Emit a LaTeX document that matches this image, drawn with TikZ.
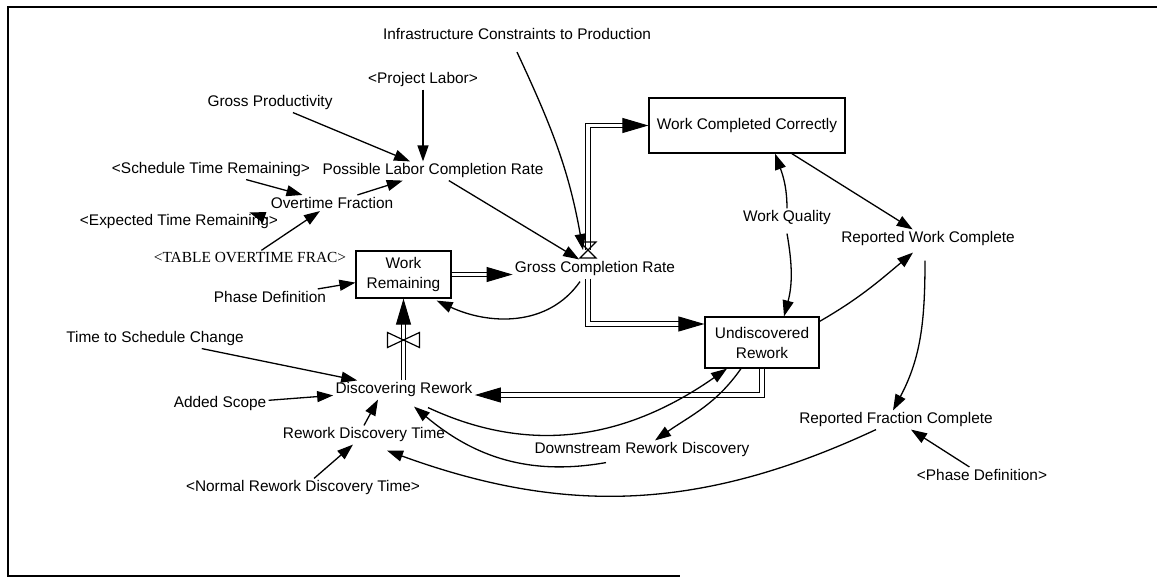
\documentclass[tikz,border=0pt]{standalone}
\usepackage{fontspec}
\setmainfont{Liberation Sans}
\newfontfamily\tablefont{Liberation Serif}
\usetikzlibrary{arrows.meta}

\begin{document}
\begin{tikzpicture}[x=0.5pt, y=-0.5pt,
    font=\fontsize{7.7}{9.2}\selectfont,
    aux/.style={inner sep=1pt},
    stock/.style={draw, line width=0.6pt, align=center, inner sep=1pt,
      font=\fontsize{7.7}{10}\selectfont},
    info/.style={line width=0.65pt, -{Triangle[length=8pt,width=5.5pt]}},
    flowpipe/.style={double, double distance=1.8pt, line width=0.5pt,
      -{Triangle[length=13pt,width=7.5pt]}},
    valve/.style={line width=0.6pt}]
  \useasboundingbox (0,0) rectangle (1157,578);
  \draw[line width=1pt] (1157,7) -- (8,7) -- (8,576) -- (680,576);

  \node[aux] (infra) at (517,34) {Infrastructure Constraints to Production};
  \node[aux] (projlabor) at (423,80) {<Project Labor>};
  \node[aux] (grossprod) at (270,103) {Gross Productivity};
  \node[aux] (schedtime) at (211,170) {<Schedule Time Remaining>};
  \node[aux] (possrate) at (433,171) {Possible Labor Completion Rate};
  \node[aux] (overtime) at (332,203) {Overtime Fraction};
  \node[aux] (expected) at (179,222) {<Expected Time Remaining>};
  \node[aux, font=\tablefont\fontsize{7.7}{9.2}\selectfont] (tableot) at (250,258)
    {<TABLE OVERTIME FRAC>};
  \node[stock, minimum width=47.5pt, minimum height=23.5pt] (workrem) at (403.5,274.5)
    {Work\\Remaining};
  \node[aux] (grossrate) at (595,269) {Gross Completion Rate};
  \node[aux] (phasedef) at (270,297) {Phase Definition};
  \node[aux] (timesched) at (155,339) {Time to Schedule Change};
  \node[aux] (discovering) at (404,390) {Discovering Rework};
  \node[aux] (addedscope) at (220,404) {Added Scope};
  \node[aux] (rdtime) at (364,435) {Rework Discovery Time};
  \node[aux] (normalrdt) at (303,488) {<Normal Rework Discovery Time>};
  \node[aux] (downstream) at (642,450) {Downstream Rework Discovery};
  \node[stock, minimum width=57pt, minimum height=25.5pt] (undisc) at (762,342.5)
    {Undiscovered\\Rework};
  \node[stock, minimum width=98pt, minimum height=27.5pt] (wcc) at (747,125.5)
    {Work Completed Correctly};
  \node[aux] (quality) at (787,218) {Work Quality};
  \node[aux] (repwork) at (928,239) {Reported Work Complete};
  \node[aux] (repfrac) at (896,420) {Reported Fraction Complete};
  \node[aux] (phasedef2) at (982,475) {<Phase Definition>};
  \coordinate (gcrvalve) at (588,250);
  \coordinate (drvalve) at (403.5,340);

  \draw[flowpipe] (workrem.east) -- (workrem.east -| grossrate.west);
  \draw[flowpipe] (gcrvalve) |- (wcc.west);
  \draw[flowpipe] (gcrvalve |- grossrate.south) |- ([yshift=9.25pt]undisc.west);
  \draw[flowpipe] (undisc.south) |- ([yshift=-2.5pt]discovering.east);
  \draw[flowpipe] (workrem.south |- discovering.north) -- (workrem.south);
  \draw[valve] (gcrvalve) -- ++(-8,-8) -- ++(16,0) -- cycle
    (gcrvalve) -- ++(-8,8) -- ++(16,0) -- cycle;
  \draw[valve] (drvalve) -- ++(-16,-7.5) -- ++(0,15) -- cycle
    (drvalve) -- ++(16,-7.5) -- ++(0,15) -- cycle;

  \draw[info] ([yshift=-5pt]infra.south) to[out=-65,in=100] ([xshift=-2.5pt]gcrvalve);
  \draw[info] (projlabor) -- (projlabor |- possrate.north);
  \draw[info] (grossprod) -- (possrate);
  \draw[info] (schedtime) -- (overtime);
  \draw[info] (overtime) -- (possrate);
  \draw[info] ([xshift=-6.5pt,yshift=-3pt]expected.north east)
    -- ([xshift=-15.5pt]expected.north east);
  \draw[info] (tableot) -- (overtime);
  \draw[info] (possrate) -- (grossrate);
  \draw[info] (phasedef) -- (workrem);
  \draw[info] ([xshift=-7.5pt,yshift=-1.5pt]grossrate.south)
    to[out=-125,in=-25] ([xshift=-7.5pt,yshift=-1pt]workrem.south east);
  \draw[info] (wcc) -- (repwork);
  \draw[info] (quality.north) to[out=90,in=-70] ([xshift=14pt]wcc.south);
  \draw[info] ([yshift=-3pt]quality.south) to[out=-80,in=75] ([xshift=11pt]undisc.north);
  \draw[info] ([yshift=-2.5pt]undisc.north east)
    to[out=30,in=-140] ([xshift=-7.5pt,yshift=-2pt]repwork.south);
  \draw[info] ([xshift=-1.5pt,yshift=-6pt]repwork.south)
    to[out=-90,in=62] ([xshift=-1.5pt]repfrac.north);
  \draw[info] (phasedef2) -- (repfrac);
  \draw[info] ([xshift=-10pt]repfrac.south)
    to[out=-155,in=-20] ([xshift=11.5pt,yshift=-3pt]rdtime.south);
  \draw[info] ([xshift=-18pt,yshift=-1.5pt]downstream.south)
    to[out=-170,in=-40] ([xshift=5pt,yshift=-3.5pt]discovering.south);
  \draw[info] ([xshift=12pt,yshift=-4pt]discovering.south)
    to[out=-25,in=-145] ([xshift=-17.5pt]undisc.south);
  \draw[info] ([xshift=-10.5pt]undisc.south)
    to[out=-125,in=35] ([xshift=6.5pt]downstream.north);
  \draw[info] (timesched) -- (discovering);
  \draw[info] (addedscope) -- (discovering);
  \draw[info] (rdtime.north) -- ([xshift=-13pt]discovering.south);
  \draw[info] (normalrdt) -- (rdtime);
\end{tikzpicture}
\end{document}
